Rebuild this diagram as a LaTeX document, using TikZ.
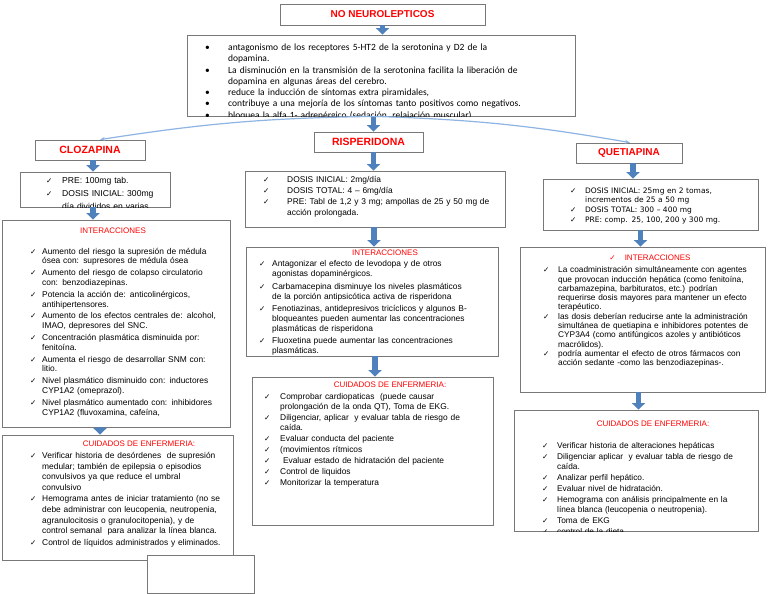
\documentclass[tikz,border=0pt]{standalone}
\usepackage{fontspec}
\setmainfont{Liberation Sans}
\newfontfamily\calfont{Carlito}
\newfontfamily\symfont{DejaVu Sans}
\usetikzlibrary{positioning,fit,arrows.meta}

\definecolor{titred}{RGB}{255,0,0}
\definecolor{boxgray}{RGB}{120,120,120}
\definecolor{arrblue}{RGB}{79,129,189}
\definecolor{lineblue}{RGB}{141,180,226}

\newlength{\hangw}
\newcommand{\ck}{{\symfont\fontsize{7.5}{7.5}\selectfont ✓}}
\newcommand{\itm}[2][\ck]{\par\hangindent=\hangw\hangafter=1\noindent\makebox[\hangw][l]{#1}#2\par}

\begin{document}
\begin{tikzpicture}[x=1pt, y=-1pt]
	\tikzset{box/.style={draw=boxgray, line width=0.8pt, fill=white, inner sep=0pt},
	tit/.style={text=titred, font=\bfseries\fontsize{10}{12}\selectfont},
	sub/.style={text=titred, inner sep=0pt, font=\fontsize{8}{10}\selectfont},
	txt/.style={anchor=north west, inner sep=0pt, align=left, font=\fontsize{8.4}{9.8}\selectfont},
	blk/.style={line width=5.5pt, draw=arrblue, -{Triangle[width=13pt,length=6.5pt]}},
	thn/.style={draw=lineblue, line width=1.2pt, -{Stealth[length=5pt,width=4pt]}}};

	\useasboundingbox[fill=white] (0,0) rectangle (768,594);

	% cabecera
	\node[box, tit, minimum width=205, minimum height=21] (top) at (382.5,14.5) {NO NEUROLEPTICOS};
	\node[box, fit={(187,35) (575,116)}] (topd) {};
	\begin{scope}
		\clip (topd.north west) rectangle (topd.south east);
		\node[txt, font=\calfont\fontsize{9.5}{11.3}\selectfont, text width=365] (topd-t) at (205,39) {\setlength\hangw{23pt}%
			\itm[\textbullet]{antagonismo de los receptores 5-HT2 de la serotonina y D2 de la\newline dopamina.}
			\itm[\textbullet]{La disminución en la transmisión de la serotonina facilita la liberación de\newline dopamina en algunas áreas del cerebro.}
			\itm[\textbullet]{reduce la inducción de síntomas extra piramidales,}
			\itm[\textbullet]{contribuye a una mejoría de los síntomas tanto positivos como negativos.}
			\itm[\textbullet]{bloquea la alfa 1- adrenérgico (sedación, relajación muscular)}};
	\end{scope}

	% clozapina
	\node[box, tit, minimum width=110, minimum height=20] (cloz) at (90,150) {\fontsize{10.5}{12}\selectfont CLOZAPINA};
	\node[box, fit={(20,172) (170,207)}] (clozd) {};
	\begin{scope}
		\clip (clozd.north west) rectangle (clozd.south east);
		\node[txt, font=\fontsize{8.6}{12.6}\selectfont, text width=125] (clozd-t) at (46,171) {\setlength\hangw{16pt}%
			\itm{PRE: 100mg tab.}
			\itm{DOSIS INICIAL: 300mg\newline día divididos en varias}};
	\end{scope}
	\node[box, fit={(2,220) (230,427)}] (clozi) {};
	\node[sub] (clozi-h) at (113,231) {INTERACCIONES};
	\node[txt, text width=198] (clozi-t) at (30,242) {\setlength\hangw{12pt}\setlength\parskip{2pt}%
		\itm{Aumento del riesgo la supresión de médula\newline ósea con: supresores de médula ósea}
		\itm{Aumento del riesgo de colapso circulatorio\newline con: benzodiazepinas.}
		\itm{Potencia la acción de: anticolinérgicos,\newline antihipertensores.}
		\itm{Aumento de los efectos centrales de: alcohol,\newline IMAO, depresores del SNC.}
		\itm{Concentración plasmática disminuida por:\newline fenitoína.}
		\itm{Aumenta el riesgo de desarrollar SNM con:\newline litio.}
		\itm{Nivel plasmático disminuido con: inductores\newline CYP1A2 (omeprazol).}
		\itm{Nivel plasmático aumentado con: inhibidores\newline CYP1A2 (fluvoxamina, cafeína,}};
	\node[box, fit={(2,435) (233,560)}] (clozc) {};
	\node[sub] (clozc-h) at (139,444) {CUIDADOS DE ENFERMERIA:};
	\node[txt, font=\fontsize{8.4}{10.7}\selectfont, text width=200] (clozc-t) at (30,447) {\setlength\hangw{12pt}\setlength\parskip{0.5pt}%
		\itm{Verificar historia de desórdenes\ \ de supresión\newline medular; también de epilepsia o episodios\newline convulsivos ya que reduce el umbral\newline convulsivo}
		\itm{Hemograma antes de iniciar tratamiento (no se\newline debe administrar con leucopenia, neutropenia,\newline agranulocitosis o granulocitopenia), y de\newline control semanal\ \ para analizar la línea blanca.}
		\itm{Control de líquidos administrados y eliminados.}};
	\node[box, fit={(147,555) (254,593)}] (blank) {};

	% risperidona
	\node[box, tit, minimum width=109, minimum height=20] (risp) at (368.5,142) {\fontsize{10.5}{12}\selectfont RISPERIDONA};
	\node[box, fit={(245,171) (505,227)}] (rispd) {};
	\node[txt, font=\fontsize{8.4}{11}\selectfont, text width=240] (rispd-t) at (263,171) {\setlength\hangw{24pt}%
		\itm{DOSIS INICIAL: 2mg/día}
		\itm{DOSIS TOTAL: 4 – 6mg/día}
		\itm{PRE: Tabl de 1,2 y 3 mg; ampollas de 25 y 50 mg de\newline acción prolongada.}};
	\node[box, fit={(246,247) (498,356)}] (rispi) {};
	\node[sub] (rispi-h) at (385,253) {INTERACCIONES};
	\node[txt, font=\fontsize{8.4}{9.7}\selectfont, text width=235] (rispi-t) at (259,254) {\setlength\hangw{13pt}\setlength\parskip{3pt}%
		\itm{Antagonizar el efecto de levodopa y de otros\newline agonistas dopaminérgicos.}
		\itm{Carbamacepina disminuye los niveles plasmáticos\newline de la porción antipsicótica activa de risperidona}
		\itm{Fenotiazinas, antidepresivos tricíclicos y algunos B-\newline bloqueantes pueden aumentar las concentraciones\newline plasmáticas de risperidona}
		\itm{Fluoxetina puede aumentar las concentraciones\newline plasmáticas.}};
	\node[box, fit={(252,377) (493,525)}] (rispc) {};
	\node[sub] (rispc-h) at (390,385) {CUIDADOS DE ENFERMERIA:};
	\node[txt, font=\fontsize{8.4}{10}\selectfont, text width=225] (rispc-t) at (264,388) {\setlength\hangw{16pt}\setlength\parskip{1pt}%
		\itm{Comprobar cardiopaticas\ \ (puede causar\newline prolongación de la onda QT), Toma de EKG.}
		\itm{Diligenciar, aplicar\ \ y evaluar tabla de riesgo de\newline caída.}
		\itm{Evaluar conducta del paciente}
		\itm{(movimientos rítmicos}
		\itm{\ Evaluar estado de hidratación del paciente}
		\itm{Control de liquidos}
		\itm{Monitorizar la temperatura}};

	% quetiapina
	\node[box, tit, minimum width=106, minimum height=20] (quet) at (629,153) {QUETIAPINA};
	\node[box, fit={(543,179) (758,230)}] (quetd) {};
	\node[txt, font=\symfont\fontsize{7.5}{9.8}\selectfont, text width=185] (quetd-t) at (570,183) {\setlength\hangw{15pt}%
		\itm{DOSIS INICIAL: 25mg en 2 tomas,\newline incrementos de 25 a 50 mg}
		\itm{DOSIS TOTAL: 300 – 400 mg}
		\itm{PRE: comp. 25, 100, 200 y 300 mg.}};
	\node[box, fit={(520,247) (765,392)}] (queti) {};
	\node[sub] (queti-h) at (650,258) {\ck\hspace{9pt}INTERACCIONES};
	\node[txt, font=\fontsize{8.3}{9.2}\selectfont, text width=220] (queti-t) at (543,263) {\setlength\hangw{15pt}\setlength\parskip{0.5pt}%
		\itm{La coadministración simultáneamente con agentes\newline que provocan inducción hepática (como fenitoína,\newline carbamazepina, barbituratos, etc.) podrían\newline requerirse dosis mayores para mantener un efecto\newline terapéutico.}
		\itm{las dosis deberían reducirse ante la administración\newline simultánea de quetiapina e inhibidores potentes de\newline CYP3A4 (como antifúngicos azoles y antibióticos\newline macrólidos).}
		\itm{podría aumentar el efecto de otros fármacos con\newline acción sedante -como las benzodiazepinas-.}};
	\node[box, fit={(514,410) (758,531)}] (quetc) {};
	\node[sub] (quetc-h) at (653,424) {CUIDADOS DE ENFERMERIA:};
	\begin{scope}
		\clip (quetc.north west) rectangle (quetc.south east);
		\node[txt, font=\fontsize{8.3}{10.3}\selectfont, text width=210] (quetc-t) at (542,437) {\setlength\hangw{15pt}\setlength\parskip{0.6pt}%
			\itm{Verificar historia de alteraciones hepáticas}
			\itm{Diligenciar aplicar\ \ y evaluar tabla de riesgo de\newline caída.}
			\itm{Analizar perfil hepático.}
			\itm{Evaluar nivel de hidratación.}
			\itm{Hemograma con análisis principalmente en la\newline línea blanca (leucopenia o neutropenia).}
			\itm{Toma de EKG}
			\itm{control de la dieta}};
	\end{scope}

	% flechas
	\draw[blk] (top.south) -- (top.south |- topd.north);
	\draw[blk] ([xshift=5]risp.north |- topd.south) -- ([xshift=5]risp.north);
	\draw[thn] ([xshift=-6]topd.south) to[bend right=4] ([xshift=10]cloz.north);
	\draw[thn] ([xshift=-6]topd.south) to[bend left=4] ([xshift=1]quet.north);
	\draw[blk] ([xshift=3]cloz.south) -- ([xshift=3]cloz.south |- clozd.north);
	\draw[blk] ([xshift=-2]clozd.south) -- ([xshift=-2]clozd.south |- clozi.north);
	\draw[blk] ([xshift=-16]clozi.south) -- ([xshift=-16]clozi.south |- clozc.north);
	\draw[blk] ([xshift=5]risp.south) -- ([xshift=5]risp.south |- rispd.north);
	\draw[blk] ([xshift=-1]rispd.south) -- ([xshift=-1]rispd.south |- rispi.north);
	\draw[blk] ([xshift=3]rispi.south) -- ([xshift=3]rispi.south |- rispc.north);
	\draw[blk] ([xshift=4]quet.south) -- ([xshift=4]quet.south |- quetd.north);
	\draw[blk] ([xshift=-10]quetd.south) -- ([xshift=-10]quetd.south |- queti.north);
	\draw[blk] ([xshift=-4]queti.south) -- ([xshift=-4]queti.south |- quetc.north);
\end{tikzpicture}
\end{document}
